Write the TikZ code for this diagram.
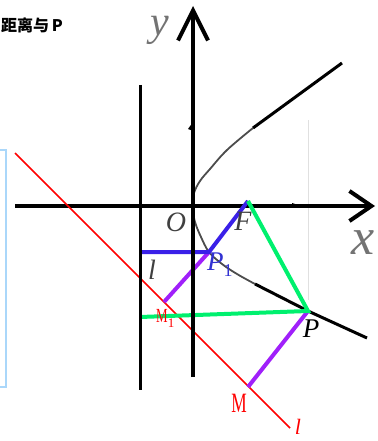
\documentclass[tikz,border=0pt]{standalone}
\usepackage{fontspec}
\setmainfont{Liberation Serif}
\newfontfamily\cjk{Noto Sans CJK SC}
\usetikzlibrary{arrows.meta}
\definecolor{myblue}{RGB}{58,32,232}
\definecolor{labblue}{RGB}{50,50,210}
\definecolor{mypurple}{RGB}{160,32,250}
\definecolor{mygreen}{RGB}{0,240,110}
\definecolor{lblue}{RGB}{170,215,250}
\begin{document}
\begin{tikzpicture}[x=1pt,y=-1pt,
  axisline/.style={line width=4pt,black},
  dirline/.style={line width=3pt,black},
  redline/.style={line width=1.5pt,red},
  bluesegs/.style={line width=4pt,myblue},
  purplesegs/.style={line width=4pt,mypurple},
  greensegs/.style={line width=4pt,mygreen},
  parabgrey/.style={line width=1.8pt,black!70},
  parabblack/.style={line width=3pt,black},
  lab/.style={inner sep=0pt},
  bigit/.style={lab,font=\fontsize{28}{30}\selectfont\itshape}
]
\useasboundingbox (0,0) rectangle (377,441);

% points
\coordinate (O) at (192,206);
\coordinate (F) at (248,201);
\coordinate (P1) at (209,252);
\coordinate (P) at (308,311);
\coordinate (M1) at (164,302);
\coordinate (M) at (248,387);
\coordinate (D1) at (140,252);
\coordinate (D) at (140,317);
\coordinate (lt) at (140,85);
\coordinate (lb) at (140,390);
\coordinate (rs) at (15,153);
\coordinate (re) at (290,428);
\coordinate (xs) at (15,206);
\coordinate (xe) at (375,206);
\coordinate (ys) at (193,377);
\coordinate (ye) at (193,6);
\coordinate (ua) at (253,128);
\coordinate (ub) at (342,63);
\coordinate (la) at (255,284);
\coordinate (lz) at (367,338);

% left box edge and faint line
\draw[lblue,line width=1.5pt] (-20,150) rectangle (6,387);
\draw[black!12,line width=0.8pt] (308,120) -- (308,300);

% heading text
\node[lab,anchor=west,font=\cjk\bfseries\fontsize{16}{17}\selectfont] (head) at (1,25) {距离与\,P};

% x-axis
\draw[axisline,-{Straight Barb[length=22pt,width=30pt]}] (xs) -- (xe);
\fill (292,203) -- (301,206) -- (292,206) -- cycle;

% red line
\draw[redline] (rs) -- (re);

% parabola
\draw[parabgrey] plot[smooth,tension=0.6] coordinates {(192,206) (194,193) (200,181) (210,169) (227,150) (ua)};
\draw[parabblack] (ua) -- (ub);
\draw[parabgrey] plot[smooth,tension=0.6] coordinates {(192,206) (195,222) (201,237) (209,252) (222,264) (237,274) (la)};
\draw[parabblack] (la) -- (P) -- (lz);

% coloured segments
\draw[purplesegs] (P1) -- (M1);
\draw[purplesegs] (P) -- (M);
\draw[bluesegs] (F) -- (P1) -- (D1);
\draw[greensegs,line join=miter] (F) -- (P) -- (D);

% directrix and y-axis
\draw[dirline] (lt) -- (lb);
\draw[axisline,-{Straight Barb[length=30pt,width=30pt]}] (ys) -- (ye);
\fill (188,129) -- (193,122) -- (193,131) -- cycle;

% labels
\node[lab,text=black!55,font=\fontsize{42}{42}\selectfont\itshape] (ylab) at (160,30) {y};
\node[lab,text=black!55,font=\fontsize{52}{52}\selectfont\itshape,anchor=west] (xlab) at (351,243) {x};
\node[bigit,text=black!75] (Olab) at (176,222) {O};
\node[bigit,text=black!75] (Flab) at (243,221) {F};
\node[bigit,text=black!75] (llab) at (152,270) {l};
\node[lab,text=labblue,anchor=west] (P1lab) at (207,265) {{\fontsize{27}{27}\selectfont\itshape P}\raisebox{-6pt}{\fontsize{18}{18}\selectfont 1}};
\node[bigit,text=black,font=\fontsize{27}{27}\selectfont\itshape] (Plab) at (311,329) {P};
\node[lab,text=red,anchor=west] (M1lab) at (156,318) {\scalebox{0.65}[1]{\fontsize{20}{20}\selectfont M}\raisebox{-5pt}{\fontsize{13}{13}\selectfont 1}};
\node[lab,text=red] (Mlab) at (239,403) {\scalebox{0.62}[1]{\fontsize{28}{28}\selectfont M}};
\node[lab,text=red,font=\fontsize{22}{22}\selectfont\itshape] (rlab) at (298,427) {l};
\end{tikzpicture}
\end{document}
